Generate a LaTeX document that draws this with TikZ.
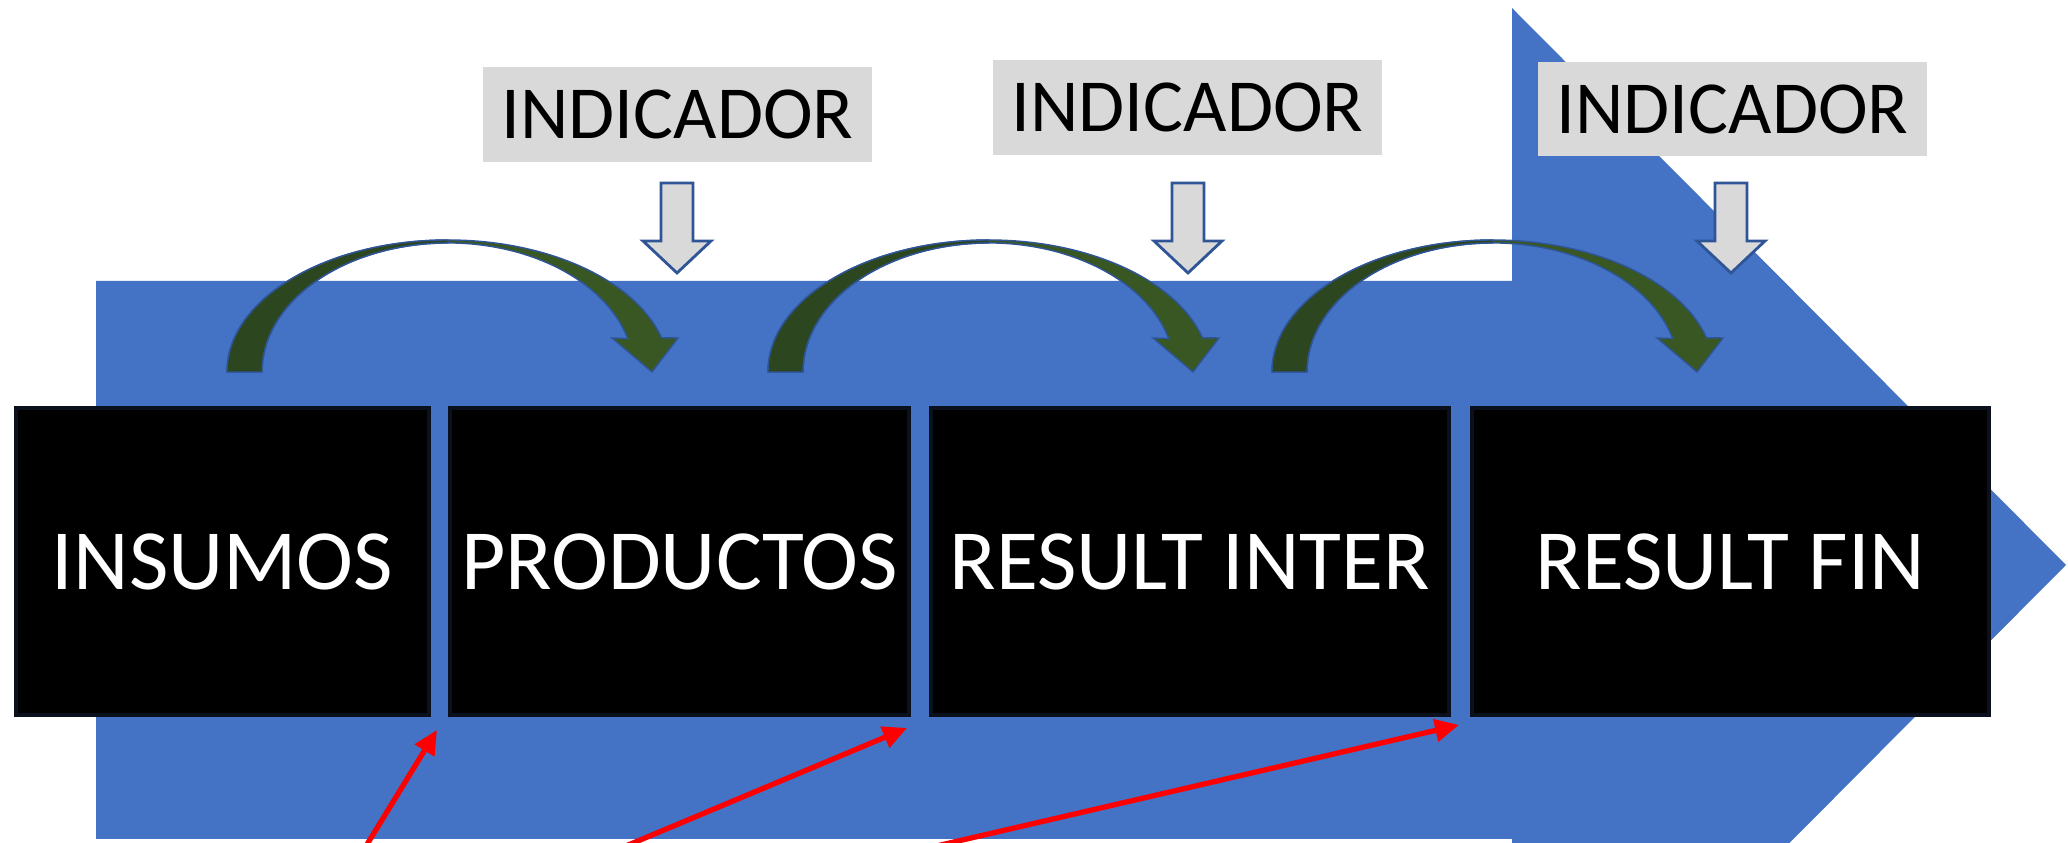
\documentclass[tikz,border=0pt]{standalone}
\usepackage{fontspec}
\setmainfont{Carlito}
\usetikzlibrary{arrows.meta}
\definecolor{azul}{HTML}{4472C4}
\definecolor{azulosc}{HTML}{2F5597}
\definecolor{verde}{HTML}{385723}
\definecolor{verdeosc}{HTML}{2C4620}
\definecolor{gris}{HTML}{D9D9D9}

\tikzset{
  etapa/.style={fill=black, draw=black!85!azul, line width=1.2pt, text=white,
    minimum height=3.07cm, inner sep=0pt, font=\fontsize{24.4}{29}\selectfont},
  indic/.style={fill=gris, minimum width=3.89cm, minimum height=0.94cm, inner sep=0pt,
    font=\fontsize{21.3}{26}\selectfont},
  flecha/.style={red, line width=1.5pt, -{Triangle[length=0.24cm,width=0.22cm]}}
}

\begin{document}
\begin{tikzpicture}[x=0.01cm,y=0.01cm]
  \useasboundingbox (0,0) rectangle (2068,843);
  \clip (0,0) rectangle (2068,843);
  % flecha de fondo
  \fill[azul] (96,4)--(96,562)--(1512,562)--(1512,835)--(2066,278)--(1512,-279)--(1512,4)--cycle;

  % flechas curvas
  \foreach \dx in {0,541,1045} {
    \filldraw[shift={(\dx,0)}, fill=verde, draw=azulosc, line width=0.4pt]
      (227,471) arc[start angle=180, end angle=15, x radius=221, y radius=132]
      -- (678,505) -- (652,471) -- (612,505) -- (627.7,504.4)
      arc[start angle=15, end angle=180, x radius=186, y radius=129] -- cycle;
    \filldraw[shift={(\dx,0)}, fill=verdeosc, draw=azulosc, line width=0.4pt]
      (227,471) arc[start angle=180, end angle=90, x radius=221, y radius=132]
      -- (448,600) arc[start angle=90, end angle=180, x radius=186, y radius=129] -- cycle;
  }

  % indicadores
  \node[indic] (ind1) at (677.5,728.5) {INDICADOR};
  \node[indic] (ind2) at (1187.5,735.5) {INDICADOR};
  \node[indic] (ind3) at (1732.5,734) {INDICADOR};
  \foreach \x in {677,1188,1731}
    \filldraw[fill=gris, draw=azulosc, line width=0.8pt]
      (\x-16,660)--(\x+16,660)--(\x+16,602)--(\x+34,602)--(\x,570)--(\x-34,602)--(\x-16,602)--cycle;

  % etapas
  \node[etapa, minimum width=4.13cm] (ins) at (222.5,281.5) {INSUMOS};
  \node[etapa, minimum width=4.59cm] (prod) at (679.5,281.5) {PRODUCTOS};
  \node[etapa, minimum width=5.18cm] (rinter) at (1190,281.5) {RESULT INTER};
  \node[etapa, minimum width=5.17cm] (rfin) at (1730.5,281.5) {RESULT FIN};

  % flechas rojas
  \coordinate (c1) at (363,-8);
  \coordinate (c2) at (614,-8);
  \coordinate (c3) at (915,-8);
  \coordinate (p1) at (437,113);
  \coordinate (p2) at (907,115);
  \coordinate (p3) at (1459,118);
  \draw[flecha] (c1) -- (p1);
  \draw[flecha] (c2) -- (p2);
  \draw[flecha] (c3) -- (p3);
\end{tikzpicture}
\end{document}
